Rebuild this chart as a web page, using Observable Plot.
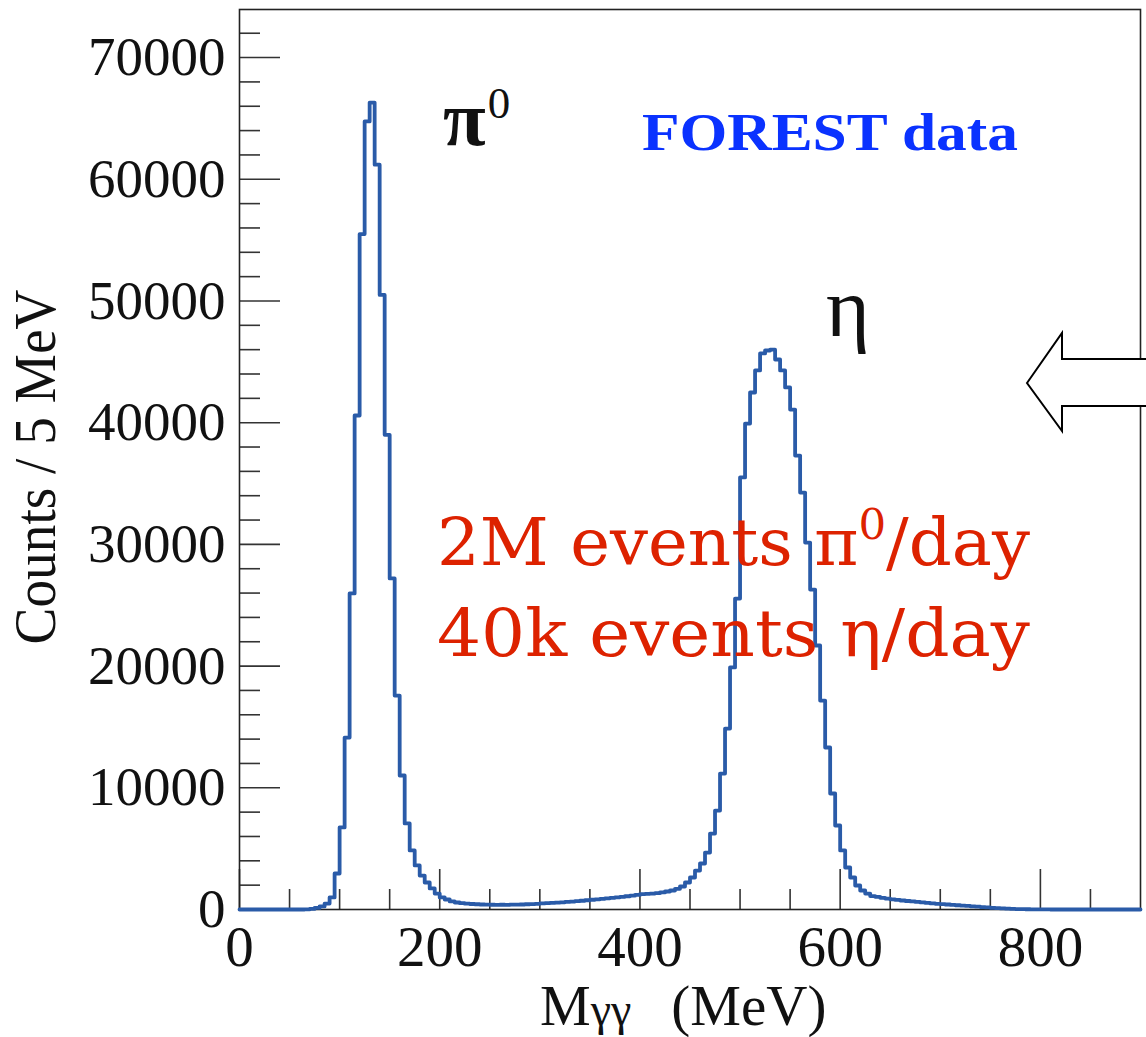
<!DOCTYPE html>
<html><head><meta charset="utf-8">
<script src="https://cdn.jsdelivr.net/npm/d3@7"></script>
<script src="https://cdn.jsdelivr.net/npm/@observablehq/plot@0.6"></script>
<style>
html,body{margin:0;padding:0;background:#fff}
#chart svg{display:block}
</style>
</head><body><div id="chart"></div>
<script>
// Histogram: counts per 5 MeV bin, M_gg from 0 to 900 MeV (bin low edges 0,5,10,...,895)
const binWidth = 5;
const counts = [
  0,0,0,0,0,0,0,0,0,0,
  0,0,0,10,50,130,250,490,990,2960,
  6740,14130,25970,40590,55500,64750,66300,61200,50500,39000,
  27200,17580,11010,7070,4850,3620,2790,2220,1730,1310,
  990,820,660,575,520,480,450,430,410,400,
  390,380,390,380,400,400,410,430,440,470,
  500,520,540,560,590,620,650,680,720,760,
  800,840,880,920,960,1000,1040,1090,1140,1200,
  1260,1290,1310,1340,1400,1480,1560,1700,1890,2220,
  2630,3200,3780,4680,6240,8130,11170,14870,19890,25550,
  35500,39930,42480,44290,45690,45930,46000,45190,44290,42900,
  41080,37300,34260,30150,26290,21690,17170,13310,9530,6900,
  4850,3450,2630,1970,1560,1310,1100,1040,960,900,
  840,790,740,700,660,620,580,540,500,470,
  440,410,380,350,320,290,260,230,200,170,
  140,110,85,65,50,38,28,20,14,9,
  5,3,2,0,0,0,0,0,0,0,
  0,0,0,0,0,0,0,0,0,0
];
const xDomain = [0, 900];
const yDomain = [0, 73950];
const yMajorTicks = [0, 10000, 20000, 30000, 40000, 50000, 60000, 70000];
const yMinorTicks = [2000,4000,6000,8000,12000,14000,16000,18000,22000,24000,26000,28000,
  32000,34000,36000,38000,42000,44000,46000,48000,52000,54000,56000,58000,
  62000,64000,66000,68000,72000];
const xMajorTicks = [0, 200, 400, 600, 800];
const xMinorTicks = [50,100,150,250,300,350,450,500,550,650,700,750,850];

const yTitle = "Counts / 5 MeV";
const xTitleMain = "M", xTitleSub = "γγ", xTitleUnit = "(MeV)";
const legendText = "FOREST data";
const line1 = ["2M events π", "0", "/day"];
const line2 = "40k events η/day";

const bins = counts.map((c, i) => ({x: i * binWidth, y: c}));
bins.push({x: counts.length * binWidth, y: counts[counts.length - 1]});

const W = 1146, H = 1037, mL = 239, mR = 6, mT = 9, mB = 128;
const innerW = W - mL - mR, innerH = H - mT - mB;
const serif = "'Liberation Serif', 'Times New Roman', serif";
const tickColor = "#333";

const chart = Plot.plot({
  width: W, height: H,
  marginLeft: mL, marginRight: mR, marginTop: mT, marginBottom: mB,
  style: {fontFamily: serif, background: "#fff", overflow: "visible", color: "#111"},
  x: {domain: xDomain},
  y: {domain: yDomain},
  marks: [
    Plot.tickY(yMajorTicks, {y: d => d, insetRight: innerW - 41, stroke: tickColor, strokeWidth: 1.6}),
    Plot.tickY(yMinorTicks, {y: d => d, insetRight: innerW - 21, stroke: tickColor, strokeWidth: 1.6}),
    Plot.tickX(xMajorTicks, {x: d => d, insetTop: innerH - 40, stroke: tickColor, strokeWidth: 1.6}),
    Plot.tickX(xMinorTicks, {x: d => d, insetTop: innerH - 20, stroke: tickColor, strokeWidth: 1.6}),
    Plot.axisY(yMajorTicks, {tickSize: 0, tickPadding: 14, fontSize: 55, tickFormat: d3.format("d"), fill: "#111", label: null}),
    Plot.axisX(xMajorTicks, {tickSize: 0, tickPadding: 16, fontSize: 57, tickFormat: d3.format("d"), fill: "#111", label: null}),
    Plot.frame({stroke: "#222", strokeWidth: 1.6}),
    Plot.line(bins, {x: "x", y: "y", curve: "step-after", stroke: "#2a5ba8", strokeWidth: 3.8})
  ]
});
document.getElementById("chart").appendChild(chart);

const svg = d3.select(chart);

// Y-axis title
svg.append("text")
  .attr("transform", "translate(55,467) rotate(-90)")
  .attr("text-anchor", "middle")
  .attr("font-family", serif)
  .attr("font-size", 60)
  .attr("fill", "#111")
  .attr("textLength", 355)
  .attr("lengthAdjust", "spacingAndGlyphs")
  .text(yTitle);

// X-axis title
const xt = svg.append("text")
  .attr("x", 540).attr("y", 1025).attr("text-anchor", "start")
  .attr("font-family", serif).attr("font-size", 57).attr("fill", "#111");
xt.append("tspan").text(xTitleMain);
xt.append("tspan").attr("font-size", 46).text(xTitleSub);
xt.append("tspan").attr("dx", 40).text(xTitleUnit);

// pi0 label
const pi = svg.append("text").attr("x", 443).attr("y", 145).attr("text-anchor", "start")
  .attr("font-family", serif).attr("font-size", 78).attr("font-weight", "bold").attr("fill", "#111");
pi.append("tspan").text("π");
pi.append("tspan").attr("font-size", 45).attr("font-weight", "normal").attr("dy", -27).attr("dx", 2).text("0");

// eta label
svg.append("text").attr("x", 826).attr("y", 336).attr("text-anchor", "start")
  .attr("font-family", serif).attr("font-size", 84).attr("fill", "#111").text("η");

// FOREST data
svg.append("text").attr("x", 642).attr("y", 150).attr("text-anchor", "start")
  .attr("font-family", serif).attr("font-size", 53).attr("font-weight", "bold")
  .attr("fill", "#0a32ff")
  .attr("textLength", 376).attr("lengthAdjust", "spacingAndGlyphs")
  .text(legendText);

// Red annotation lines
const redFont = "'DejaVu Serif', Georgia, serif";
const r1 = svg.append("text").attr("x", 437).attr("y", 565).attr("text-anchor", "start")
  .attr("font-family", redFont).attr("font-size", 65).attr("fill", "#dd2200")
  .attr("textLength", 593).attr("lengthAdjust", "spacingAndGlyphs");
r1.append("tspan").text(line1[0]);
r1.append("tspan").attr("font-size", 42).attr("dy", -26).text(line1[1]);
r1.append("tspan").attr("dy", 26).text(line1[2]);

svg.append("text").attr("x", 437).attr("y", 656).attr("text-anchor", "start")
  .attr("font-family", redFont).attr("font-size", 65).attr("fill", "#dd2200")
  .attr("textLength", 593).attr("lengthAdjust", "spacingAndGlyphs")
  .text(line2);

// Hollow arrow on the right edge (decoration)
svg.append("path")
  .attr("d", "M1027,383 L1062,333 L1062,359 L1152,359 L1152,406 L1062,406 L1062,431 Z")
  .attr("fill", "#fff").attr("stroke", "#000").attr("stroke-width", 2).attr("stroke-linejoin", "miter");
</script>
</body></html>
